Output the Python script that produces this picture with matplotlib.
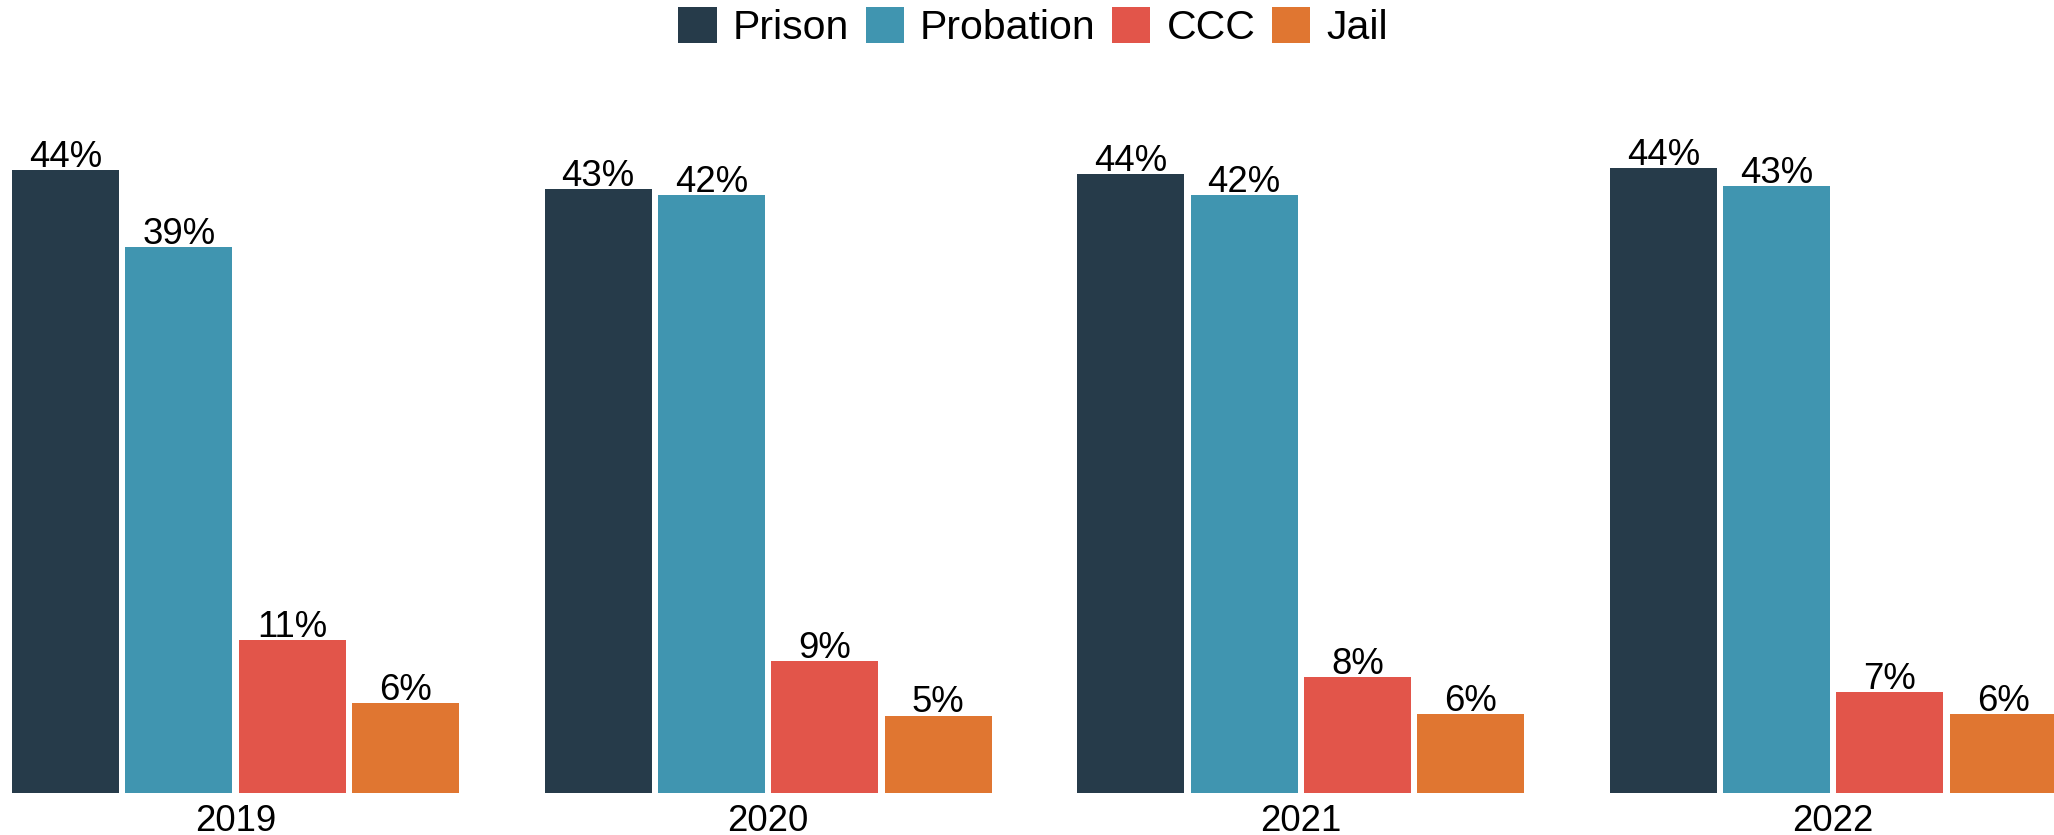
import numpy as np
from matplotlib import pyplot as plt

plt.rcParams['font.family'] = ['Liberation Sans', 'DejaVu Sans']

# data (percent of total)
years = ['2019', '2020', '2021', '2022']
series = ['Prison', 'Probation', 'CCC', 'Jail']
prison = [44.0, 42.66, 43.72, 44.14]
probation = [38.56, 42.23, 42.23, 42.87]
ccc = [10.79, 9.31, 8.18, 7.12]
jail = [6.34, 5.45, 5.56, 5.55]
colors = ['#263B4A', '#4095B0', '#E2554A', '#E07631']

fig = plt.figure(figsize=(20.54, 8.35), dpi=100)
ax = fig.add_axes([0, 0.0507, 1, 0.9 - 0.0507])

x = np.arange(len(years))
width = 0.2009
step = 0.2127

for i, (name, vals) in enumerate(zip(series, [prison, probation, ccc, jail])):
    pos = x + (i - 1.5) * step
    ax.bar(pos, vals, width=width, color=colors[i], label=name)
    for px, v in zip(pos, vals):
        ax.annotate('{0}%'.format(int(round(v))), xy=(px, v),
                    xytext=(0, 2.4), textcoords='offset points',
                    ha='center', va='baseline', fontsize=26.3, color='black')

ax.set_xlim(-0.4422, 3.4144)
ax.set_ylim(0, 50.11)
ax.set_xticks(x)
ax.set_xticklabels(years, fontsize=26.3)
ax.tick_params(axis='x', length=0, pad=8)
ax.set_yticks([])
for s in ax.spines.values():
    s.set_visible(False)

fig.legend(loc='center', bbox_to_anchor=(0.503, 0.968), ncol=4,
           frameon=False, fontsize=29.5, handlelength=0.93,
           handleheight=0.98, handletextpad=0.40, columnspacing=0.40,
           borderpad=0, borderaxespad=0)

fig.savefig('out.png', dpi=100)
